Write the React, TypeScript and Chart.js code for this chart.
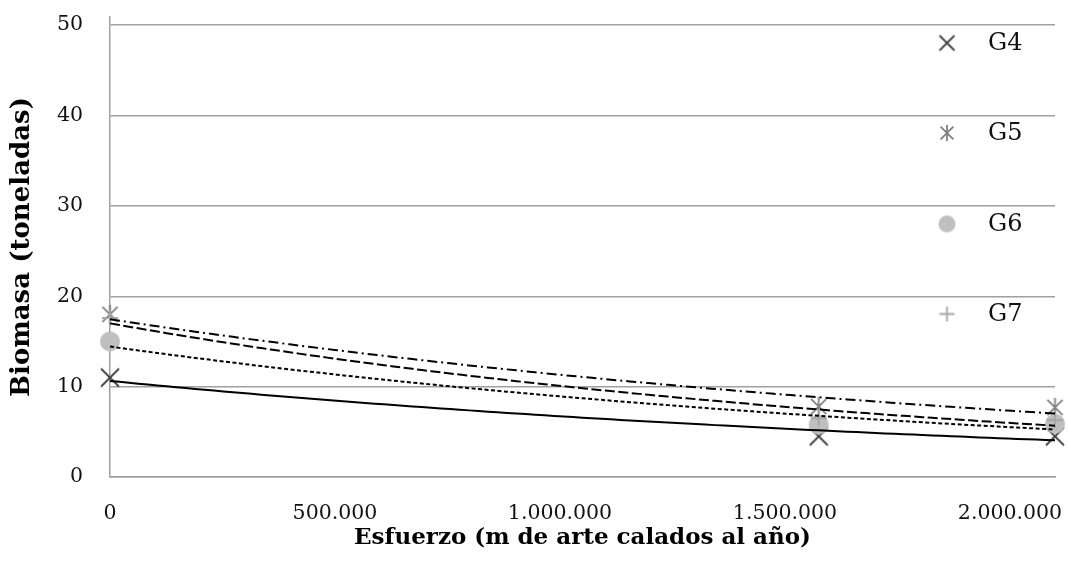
import React, { useEffect, useRef } from "react";
import { Chart, registerables } from "chart.js";

Chart.register(...registerables);

// ---- data ----
const seriesNames = ["G4", "G5", "G6", "G7"];
const effort = [0, 1575000, 2100000];
const g4 = [11.0, 4.5, 4.5];
const g5 = [18.0, 7.8, 7.7];
const g6 = [15.0, 5.8, 5.9];
const g7 = [17.6, 6.5, 6.3];
const yTickValues = [0, 10, 20, 30, 40, 50];
const xTickValues = [0, 500000, 1000000, 1500000, 2000000];

const FONT = "'DejaVu Serif', 'Liberation Serif', serif";

function expFit(xs: number[], ys: number[]) {
  const n = xs.length;
  const ly = ys.map((v) => Math.log(v));
  const mx = xs.reduce((s, v) => s + v, 0) / n;
  const my = ly.reduce((s, v) => s + v, 0) / n;
  let sxy = 0;
  let sxx = 0;
  for (let i = 0; i < n; i++) {
    sxy += (xs[i] - mx) * (ly[i] - my);
    sxx += (xs[i] - mx) * (xs[i] - mx);
  }
  const b = sxy / sxx;
  const a = Math.exp(my - b * mx);
  return { a, b };
}

function trendPoints(xs: number[], ys: number[]) {
  const { a, b } = expFit(xs, ys);
  const x0 = Math.min(...xs);
  const x1 = Math.max(...xs);
  const pts: { x: number; y: number }[] = [];
  const N = 100;
  for (let i = 0; i <= N; i++) {
    const x = x0 + ((x1 - x0) * i) / N;
    pts.push({ x, y: a * Math.exp(b * x) });
  }
  return pts;
}

function makeMarker(kind: string, half: number, color: string) {
  const pad = 3;
  const size = Math.ceil(half * 2 + pad * 2);
  const c = document.createElement("canvas");
  c.width = size;
  c.height = size;
  const ctx = c.getContext("2d") as CanvasRenderingContext2D;
  const m = size / 2;
  ctx.strokeStyle = color;
  ctx.fillStyle = color;
  ctx.lineWidth = 1.8;
  ctx.beginPath();
  if (kind === "x") {
    ctx.moveTo(m - half, m - half);
    ctx.lineTo(m + half, m + half);
    ctx.moveTo(m + half, m - half);
    ctx.lineTo(m - half, m + half);
    ctx.stroke();
  } else if (kind === "star") {
    const d = half * 0.8;
    ctx.moveTo(m - d, m - d);
    ctx.lineTo(m + d, m + d);
    ctx.moveTo(m + d, m - d);
    ctx.lineTo(m - d, m + d);
    ctx.moveTo(m, m - half);
    ctx.lineTo(m, m + half);
    ctx.stroke();
  } else if (kind === "circle") {
    ctx.arc(m, m, half, 0, Math.PI * 2);
    ctx.fill();
  } else {
    ctx.moveTo(m - half, m);
    ctx.lineTo(m + half, m);
    ctx.moveTo(m, m - half);
    ctx.lineTo(m, m + half);
    ctx.stroke();
  }
  return c;
}

function fmtThousands(v: number) {
  return String(Math.round(v)).replace(/\B(?=(\d{3})+(?!\d))/g, ".");
}

export default function App() {
  const ref = useRef<HTMLCanvasElement | null>(null);

  useEffect(() => {
    if (!ref.current) return;
    const kinds = ["x", "star", "circle", "plus"];
    const colors = ["#404040", "#808080", "#BFBFBF", "#A6A6A6"];
    const dataHalf = [9, 9.5, 10, 8];
    const legendHalf = [7.5, 8, 8.5, 7.5];
    const dataMarkers = kinds.map((k, i) => makeMarker(k, dataHalf[i], colors[i]));
    const legendMarkers = kinds.map((k, i) => makeMarker(k, legendHalf[i], colors[i]));
    const values = [g4, g5, g6, g7];
    // trend styles: G4 solid, G5 dash-dot, G6 short dash, G7 long dash
    const dashes = [[], [10, 4, 2, 4], [4, 2.5], [10, 3.5]];

    const scatterSets = values.map((vals, i) => ({
      type: "scatter" as const,
      label: seriesNames[i],
      data: effort.map((x, j) => ({ x, y: vals[j] })),
      pointStyle: dataMarkers[i],
      pointRadius: dataHalf[i],
      showLine: false,
      clip: false,
      order: 4 - i,
    }));
    const trendSets = values.map((vals, i) => ({
      type: "line" as const,
      label: "trend " + seriesNames[i],
      data: trendPoints(effort, vals),
      borderColor: "#000000",
      borderWidth: 2,
      borderDash: dashes[i],
      pointRadius: 0,
      showLine: true,
      fill: false,
      tension: 0,
      clip: false,
      order: 0,
    }));

    const legendPlugin = {
      id: "customLegend",
      afterDraw(chart: any) {
        const ctx = chart.ctx as CanvasRenderingContext2D;
        const ys = [43, 133, 224, 314];
        ctx.save();
        ctx.font = `24px ${FONT}`;
        ctx.fillStyle = "#111111";
        ctx.textAlign = "left";
        ctx.textBaseline = "middle";
        seriesNames.forEach((name, i) => {
          const mk = legendMarkers[i];
          ctx.drawImage(mk, 947 - mk.width / 2, ys[i] - mk.height / 2);
          ctx.fillText(name, 988, ys[i] + 1);
        });
        ctx.restore();
      },
    };

    const chart = new Chart(ref.current, {
      type: "scatter",
      data: { datasets: [...trendSets, ...scatterSets] as any },
      options: {
        animation: false,
        responsive: false,
        maintainAspectRatio: false,
        layout: { padding: { top: 17, right: 13, left: 0, bottom: 0 } },
        plugins: {
          legend: { display: false },
          tooltip: { enabled: false },
        },
        scales: {
          x: {
            type: "linear",
            position: "bottom",
            min: 0,
            max: 2100000,
            afterBuildTicks: (scale: any) => {
              scale.ticks = xTickValues.map((v) => ({ value: v }));
            },
            afterFit: (scale: any) => {
              scale.height = 91;
              scale.paddingLeft = 0;
              scale.paddingRight = 0;
            },
            ticks: {
              padding: 24,
              font: { family: FONT, size: 20.5 },
              color: "#111111",
              maxRotation: 0,
              autoSkip: false,
              callback: (v: any) => fmtThousands(Number(v)),
            },
            grid: { display: false, drawTicks: false },
            border: { display: true, color: "#A0A0A0", width: 1.5 },
            title: {
              display: true,
              text: "Esfuerzo (m de arte calados al año)",
              font: { family: FONT, size: 23, weight: "bold" },
              color: "#000000",
              padding: { top: 0, bottom: 16 },
            },
          },
          y: {
            min: 0,
            max: 50.9,
            afterBuildTicks: (scale: any) => {
              scale.ticks = yTickValues.map((v) => ({ value: v }));
            },
            afterFit: (scale: any) => {
              scale.width = 110;
              scale.paddingTop = 0;
              scale.paddingBottom = 0;
            },
            ticks: {
              padding: 27,
              font: { family: FONT, size: 20.5 },
              color: "#111111",
              autoSkip: false,
              callback: (v: any) => String(v),
            },
            grid: { color: "#A0A0A0", lineWidth: 1.5, drawTicks: false },
            border: { display: true, color: "#A0A0A0", width: 1.5 },
            title: {
              display: true,
              text: "Biomasa (toneladas)",
              font: { family: FONT, size: 26, weight: "bold" },
              color: "#000000",
              padding: { top: 7, bottom: 0 },
            },
          },
        },
      } as any,
      plugins: [legendPlugin],
    });
    return () => chart.destroy();
  }, []);

  return (
    <div style={{ position: "fixed", left: 0, top: 0, width: 1068, height: 568, background: "#ffffff" }}>
      <canvas ref={ref} width={1068} height={568} style={{ width: 1068, height: 568, display: "block" }} />
    </div>
  );
}
